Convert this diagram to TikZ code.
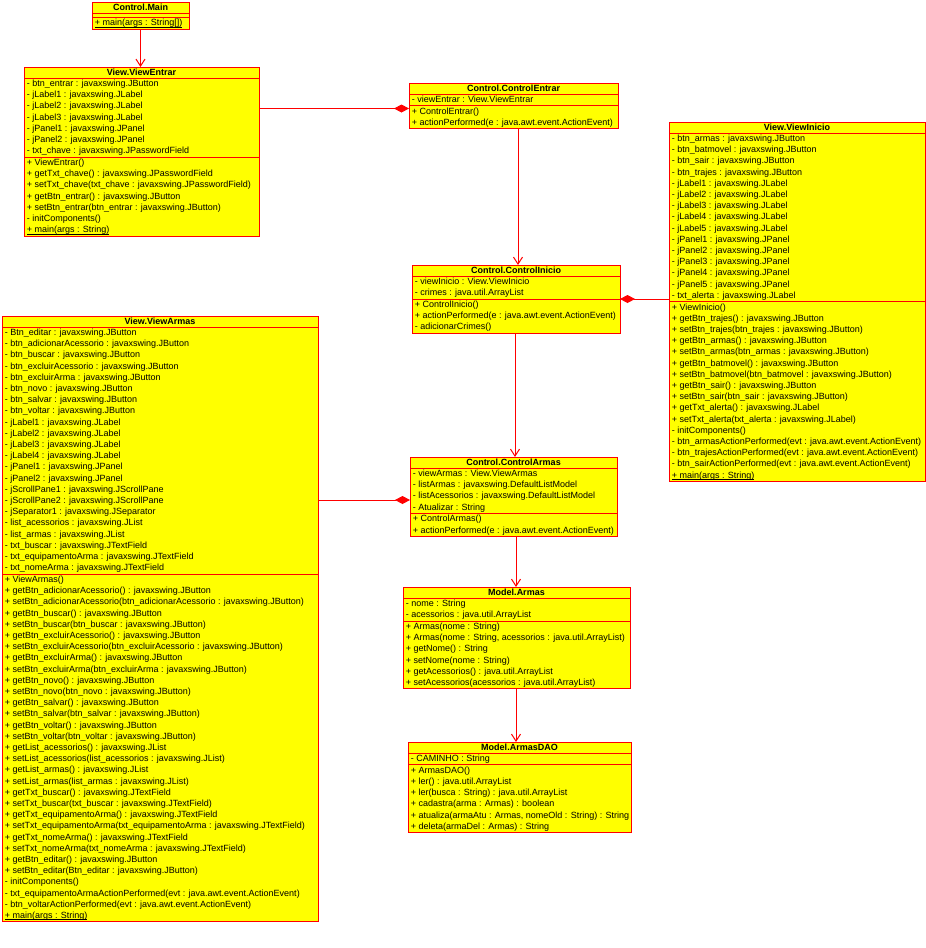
\documentclass[tikz,border=0pt]{standalone}
\usepackage{fontspec}
\setmainfont{Liberation Sans}
\usetikzlibrary{arrows.meta}

\definecolor{umlred}{RGB}{255,0,0}
\definecolor{umlyellow}{RGB}{255,255,0}

\tikzset{
  classbox/.style={draw=umlred, fill=umlyellow, line width=1pt, rectangle,
    inner sep=0pt, outer sep=0pt, anchor=north west},
  divider/.style={draw=umlred, line width=1pt},
  classtitle/.style={font=\fontsize{9}{11.2}\selectfont\bfseries, inner sep=0pt, anchor=base},
  member/.style={font=\fontsize{9}{11.2}\selectfont, inner sep=0pt, anchor=base west},
  link/.style={draw=umlred, line width=1pt},
  navigable/.style={link, -{Straight Barb[length=7pt,width=9pt]}},
  composite/.style={link, {Diamond[length=15pt,width=8pt,fill=umlred]}-},
}

% underlined (class-scope) member
\newcommand\classscope[1]{\setbox0\hbox{#1}\rlap{\rule[-1.6pt]{\wd0}{0.6pt}}\box0}

% #1 name, #2 left, #3 top, #4 right, #5 no. of attributes, #6 no. of operations,
% #7 class name, #8 attributes, #9 operations
\newcommand\umlclass[9]{%
  \pgfmathsetmacro\hb{#3+11}%
  \pgfmathsetmacro\ab{\hb+ifthenelse(#5==0,4.5,#5*11.2+0.6)}%
  \pgfmathsetmacro\mb{\ab+#6*11.2+0.6}%
  \pgfmathsetmacro\bw{#4-#2}%
  \pgfmathsetmacro\bh{\mb-#3}%
  \node[classbox, minimum width=\bw pt, minimum height=\bh pt] (#1) at (#2,#3) {};
  \draw[divider] (#1.west |- 0,\hb) -- (#1.east |- 0,\hb);
  \draw[divider] (#1.west |- 0,\ab) -- (#1.east |- 0,\ab);
  \node[classtitle] (#1-title) at ({(#2+#4)/2},{#3+8.2}) {#7};
  \ifnum#5>0
    \foreach \m [count=\i] in {#8} {\node[member] (#1-a\i) at ({#2+2.6},{\hb+8.4+(\i-1)*11.2}) {\m};}
  \fi
  \foreach \m [count=\i] in {#9} {\node[member] (#1-m\i) at ({#2+2.6},{\ab+8.4+(\i-1)*11.2}) {\m};}
}

\begin{document}
\begin{tikzpicture}[x=1pt,y=-1pt]
\useasboundingbox (0,0) rectangle (926,948);
\fill[white] (0,0) rectangle (926,948);

\umlclass{main}{92}{2}{189}{0}{1}{Control.Main}{}{%
  {\classscope{+ main(args : String[])}}}

\umlclass{ve}{24}{67}{259}{7}{7}{View.ViewEntrar}{%
  - btn\_entrar : javaxswing.JButton,
  - jLabel1 : javaxswing.JLabel,
  - jLabel2 : javaxswing.JLabel,
  - jLabel3 : javaxswing.JLabel,
  - jPanel1 : javaxswing.JPanel,
  - jPanel2 : javaxswing.JPanel,
  - txt\_chave : javaxswing.JPasswordField}{%
  + ViewEntrar(),
  + getTxt\_chave() : javaxswing.JPasswordField,
  + setTxt\_chave(txt\_chave : javaxswing.JPasswordField),
  + getBtn\_entrar() : javaxswing.JButton,
  + setBtn\_entrar(btn\_entrar : javaxswing.JButton),
  - initComponents(),
  {\classscope{+ main(args : String)}}}

\umlclass{ce}{409}{83}{618}{1}{2}{Control.ControlEntrar}{%
  - viewEntrar : View.ViewEntrar}{%
  + ControlEntrar(),
  + actionPerformed(e : java.awt.event.ActionEvent)}

\umlclass{ci}{412}{265}{620}{2}{3}{Control.ControlInicio}{%
  - viewInicio : View.ViewInicio,
  - crimes : java.util.ArrayList}{%
  + ControlInicio(),
  + actionPerformed(e : java.awt.event.ActionEvent),
  - adicionarCrimes()}

\umlclass{vi}{669}{122}{925}{15}{16}{View.ViewInicio}{%
  - btn\_armas : javaxswing.JButton,
  - btn\_batmovel : javaxswing.JButton,
  - btn\_sair : javaxswing.JButton,
  - btn\_trajes : javaxswing.JButton,
  - jLabel1 : javaxswing.JLabel,
  - jLabel2 : javaxswing.JLabel,
  - jLabel3 : javaxswing.JLabel,
  - jLabel4 : javaxswing.JLabel,
  - jLabel5 : javaxswing.JLabel,
  - jPanel1 : javaxswing.JPanel,
  - jPanel2 : javaxswing.JPanel,
  - jPanel3 : javaxswing.JPanel,
  - jPanel4 : javaxswing.JPanel,
  - jPanel5 : javaxswing.JPanel,
  - txt\_alerta : javaxswing.JLabel}{%
  + ViewInicio(),
  + getBtn\_trajes() : javaxswing.JButton,
  + setBtn\_trajes(btn\_trajes : javaxswing.JButton),
  + getBtn\_armas() : javaxswing.JButton,
  + setBtn\_armas(btn\_armas : javaxswing.JButton),
  + getBtn\_batmovel() : javaxswing.JButton,
  + setBtn\_batmovel(btn\_batmovel : javaxswing.JButton),
  + getBtn\_sair() : javaxswing.JButton,
  + setBtn\_sair(btn\_sair : javaxswing.JButton),
  + getTxt\_alerta() : javaxswing.JLabel,
  + setTxt\_alerta(txt\_alerta : javaxswing.JLabel),
  - initComponents(),
  - btn\_armasActionPerformed(evt : java.awt.event.ActionEvent),
  - btn\_trajesActionPerformed(evt : java.awt.event.ActionEvent),
  - btn\_sairActionPerformed(evt : java.awt.event.ActionEvent),
  {\classscope{+ main(args : String)}}}

\umlclass{va}{2}{316}{318}{22}{31}{View.ViewArmas}{%
  - Btn\_editar : javaxswing.JButton,
  - btn\_adicionarAcessorio : javaxswing.JButton,
  - btn\_buscar : javaxswing.JButton,
  - btn\_excluirAcessorio : javaxswing.JButton,
  - btn\_excluirArma : javaxswing.JButton,
  - btn\_novo : javaxswing.JButton,
  - btn\_salvar : javaxswing.JButton,
  - btn\_voltar : javaxswing.JButton,
  - jLabel1 : javaxswing.JLabel,
  - jLabel2 : javaxswing.JLabel,
  - jLabel3 : javaxswing.JLabel,
  - jLabel4 : javaxswing.JLabel,
  - jPanel1 : javaxswing.JPanel,
  - jPanel2 : javaxswing.JPanel,
  - jScrollPane1 : javaxswing.JScrollPane,
  - jScrollPane2 : javaxswing.JScrollPane,
  - jSeparator1 : javaxswing.JSeparator,
  - list\_acessorios : javaxswing.JList,
  - list\_armas : javaxswing.JList,
  - txt\_buscar : javaxswing.JTextField,
  - txt\_equipamentoArma : javaxswing.JTextField,
  - txt\_nomeArma : javaxswing.JTextField}{%
  + ViewArmas(),
  + getBtn\_adicionarAcessorio() : javaxswing.JButton,
  + setBtn\_adicionarAcessorio(btn\_adicionarAcessorio : javaxswing.JButton),
  + getBtn\_buscar() : javaxswing.JButton,
  + setBtn\_buscar(btn\_buscar : javaxswing.JButton),
  + getBtn\_excluirAcessorio() : javaxswing.JButton,
  + setBtn\_excluirAcessorio(btn\_excluirAcessorio : javaxswing.JButton),
  + getBtn\_excluirArma() : javaxswing.JButton,
  + setBtn\_excluirArma(btn\_excluirArma : javaxswing.JButton),
  + getBtn\_novo() : javaxswing.JButton,
  + setBtn\_novo(btn\_novo : javaxswing.JButton),
  + getBtn\_salvar() : javaxswing.JButton,
  + setBtn\_salvar(btn\_salvar : javaxswing.JButton),
  + getBtn\_voltar() : javaxswing.JButton,
  + setBtn\_voltar(btn\_voltar : javaxswing.JButton),
  + getList\_acessorios() : javaxswing.JList,
  + setList\_acessorios(list\_acessorios : javaxswing.JList),
  + getList\_armas() : javaxswing.JList,
  + setList\_armas(list\_armas : javaxswing.JList),
  + getTxt\_buscar() : javaxswing.JTextField,
  + setTxt\_buscar(txt\_buscar : javaxswing.JTextField),
  + getTxt\_equipamentoArma() : javaxswing.JTextField,
  + setTxt\_equipamentoArma(txt\_equipamentoArma : javaxswing.JTextField),
  + getTxt\_nomeArma() : javaxswing.JTextField,
  + setTxt\_nomeArma(txt\_nomeArma : javaxswing.JTextField),
  + getBtn\_editar() : javaxswing.JButton,
  + setBtn\_editar(Btn\_editar : javaxswing.JButton),
  - initComponents(),
  - txt\_equipamentoArmaActionPerformed(evt : java.awt.event.ActionEvent),
  - btn\_voltarActionPerformed(evt : java.awt.event.ActionEvent),
  {\classscope{+ main(args : String)}}}

\umlclass{ca}{410}{457}{617}{4}{2}{Control.ControlArmas}{%
  - viewArmas : View.ViewArmas,
  - listArmas : javaxswing.DefaultListModel,
  - listAcessorios : javaxswing.DefaultListModel,
  - Atualizar : String}{%
  + ControlArmas(),
  + actionPerformed(e : java.awt.event.ActionEvent)}

\umlclass{ar}{403}{587}{630}{2}{6}{Model.Armas}{%
  - nome : String,
  - acessorios : java.util.ArrayList}{%
  + Armas(nome : String),
  {+ Armas(nome : String, acessorios : java.util.ArrayList)},
  + getNome() : String,
  + setNome(nome : String),
  + getAcessorios() : java.util.ArrayList,
  + setAcessorios(acessorios : java.util.ArrayList)}

\umlclass{dao}{408}{742}{631}{1}{6}{Model.ArmasDAO}{%
  - CAMINHO : String}{%
  + ArmasDAO(),
  + ler() : java.util.ArrayList,
  + ler(busca : String) : java.util.ArrayList,
  + cadastra(arma : Armas) : boolean,
  {+ atualiza(armaAtu : Armas, nomeOld : String) : String},
  + deleta(armaDel : Armas) : String}

% helper coordinates for the connector routes
\coordinate (yEntrar) at (0,108.5);
\coordinate (yInicio) at (0,299);
\coordinate (yArmas) at (0,500);
\coordinate (xEntrar) at (518,0);
\coordinate (xInicio) at (515,0);
\coordinate (xArmas) at (516,0);

% navigable associations
\draw[navigable] (main.south) -- (main.south |- ve.north);
\draw[navigable] (ce.south -| xEntrar) -- (ci.north -| xEntrar);
\draw[navigable] (ci.south -| xInicio) -- (ca.north -| xInicio);
\draw[navigable] (ca.south -| xArmas) -- (ar.north -| xArmas);
\draw[navigable] (ar.south -| xArmas) -- (dao.north -| xArmas);

% compositions
\draw[composite] (ce.west |- yEntrar) -- (ve.east |- yEntrar);
\draw[composite] (ci.east |- yInicio) -- (vi.west |- yInicio);
\draw[composite] (ca.west |- yArmas) -- (va.east |- yArmas);
\end{tikzpicture}
\end{document}
